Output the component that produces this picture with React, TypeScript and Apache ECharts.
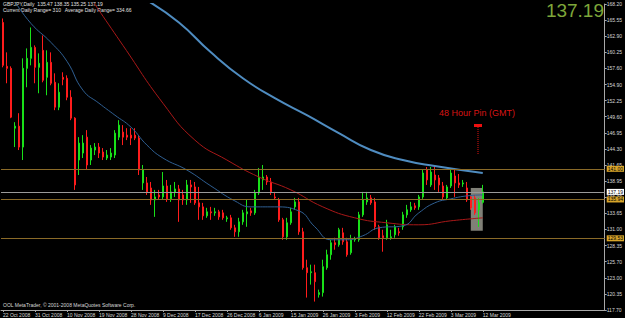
import { useEffect, useRef } from "react";
import * as echarts from "echarts";

const dateLabels = [
  "22 Oct 2008", "31 Oct 2008", "10 Nov 2008", "19 Nov 2008", "28 Nov 2008",
  "9 Dec 2008", "17 Dec 2008", "26 Dec 2008", "6 Jan 2009", "15 Jan 2009",
  "26 Jan 2009", "3 Feb 2009", "12 Feb 2009", "22 Feb 2009", "3 Mar 2009", "12 Mar 2009",
];

const priceTicks = [
  "117.70", "120.35", "123.00", "125.70", "128.35", "131.00", "133.65", "136.30", "138.95", "141.65",
  "144.30", "146.95", "149.60", "152.25", "154.90", "157.60", "160.25", "162.90", "165.55", "168.20",
];

const opens = [
  165.15, 157.91, 157.58, 147.71, 148.04, 144.59, 157.58, 159.23, 161.04, 157.75,
  160.55, 156.10, 158.57, 155.28, 151.17, 156.10, 155.94, 152.81, 149.36, 142.45,
  143.60, 146.23, 142.45, 144.10, 144.59, 143.77, 142.78, 142.94, 143.27, 146.23,
  147.06, 146.56, 146.56, 146.56, 146.07, 138.67, 138.67, 137.84, 135.87, 136.69,
  136.36, 138.17, 136.04, 137.19, 137.68, 136.69, 135.87, 138.34, 138.01, 135.38,
  134.72, 133.24, 133.90, 133.73, 133.90, 133.73, 132.75, 132.91, 131.26, 130.61,
  132.25, 133.57, 134.06, 133.73, 137.02, 139.16, 139.65, 138.83, 136.36, 135.87,
  132.58, 129.78, 132.09, 134.72, 135.54, 130.61, 124.68, 123.86, 123.86, 120.24,
  120.57, 124.68, 126.82, 128.80, 128.47, 130.44, 128.96, 127.15, 129.29, 129.29,
  133.40, 135.54, 136.20, 135.54, 131.43, 129.95, 129.62, 129.62, 130.11, 130.61,
  131.43, 133.40, 134.23, 134.89, 134.72, 136.36, 140.80, 138.34, 139.98, 139.49,
  138.17, 136.20, 138.17, 139.82, 138.67, 138.50, 137.84, 136.36, 136.20, 134.23,
  135.47,
];
const closes = [
  158.08, 157.58, 149.52, 148.04, 144.59, 157.58, 159.23, 161.04, 157.75, 158.41,
  155.61, 158.57, 155.12, 151.17, 153.64, 155.77, 152.81, 149.36, 138.34, 145.25,
  145.25, 141.63, 144.42, 144.59, 143.60, 142.94, 143.27, 143.60, 146.89, 148.21,
  146.23, 146.23, 146.07, 146.07, 140.80, 140.80, 137.19, 135.87, 136.36, 136.36,
  138.17, 136.04, 137.19, 137.68, 135.87, 135.87, 138.34, 138.01, 135.38, 134.72,
  133.24, 133.90, 133.73, 133.90, 133.07, 132.91, 132.91, 131.26, 130.61, 132.25,
  133.73, 133.90, 133.73, 137.02, 139.65, 139.65, 138.83, 137.19, 136.20, 132.58,
  129.78, 132.09, 133.90, 135.54, 130.61, 124.68, 123.86, 124.02, 122.38, 120.57,
  124.85, 126.82, 128.80, 128.47, 130.94, 128.96, 126.82, 129.29, 129.45, 133.40,
  135.87, 136.20, 135.38, 131.43, 129.62, 129.62, 131.76, 129.78, 131.43, 130.44,
  133.40, 134.23, 134.72, 134.56, 136.36, 140.31, 139.16, 140.47, 139.16, 138.34,
  136.36, 138.01, 140.31, 138.67, 138.34, 138.67, 135.87, 134.56, 133.73, 135.38,
  137.19,
];
const lows = [
  157.75, 155.12, 149.36, 144.59, 144.10, 142.45, 154.46, 158.08, 155.12, 153.47,
  155.28, 153.14, 154.79, 150.68, 150.68, 154.79, 152.32, 149.03, 137.52, 139.98,
  142.78, 140.80, 141.63, 143.27, 142.78, 142.45, 142.45, 142.45, 142.78, 145.74,
  144.92, 145.74, 144.92, 145.74, 139.98, 137.52, 136.69, 135.05, 133.07, 135.87,
  135.87, 135.54, 135.54, 136.36, 132.25, 135.05, 135.05, 135.38, 135.05, 132.58,
  132.58, 132.91, 132.58, 133.24, 132.58, 132.58, 132.25, 130.94, 129.78, 129.78,
  131.76, 131.43, 133.24, 133.40, 136.69, 137.52, 138.34, 136.69, 135.87, 132.25,
  129.29, 129.29, 131.76, 134.23, 130.11, 124.35, 119.75, 121.89, 119.09, 119.75,
  119.91, 124.35, 126.00, 127.65, 128.14, 128.47, 126.49, 126.82, 128.96, 128.96,
  133.07, 135.05, 135.05, 130.94, 129.29, 127.32, 129.29, 129.29, 129.62, 129.95,
  130.94, 132.91, 133.90, 134.23, 134.23, 136.04, 138.34, 138.01, 137.52, 137.19,
  135.87, 135.87, 137.84, 136.36, 137.84, 138.01, 135.54, 134.23, 133.40, 131.43,
  135.25,
];
const highs = [
  165.81, 160.22, 157.91, 148.70, 150.18, 159.23, 160.87, 164.33, 161.37, 160.05,
  163.01, 160.55, 160.22, 156.76, 155.12, 156.93, 156.43, 153.97, 149.52, 146.23,
  146.56, 147.39, 144.92, 145.25, 145.25, 144.42, 144.10, 144.42, 147.39, 149.03,
  148.21, 147.71, 147.71, 147.71, 146.56, 141.63, 139.65, 138.83, 137.52, 137.52,
  140.47, 139.16, 138.34, 138.83, 138.34, 137.52, 139.16, 139.16, 138.83, 138.01,
  135.38, 134.56, 134.72, 134.56, 134.23, 134.23, 133.24, 133.40, 131.76, 132.91,
  134.23, 135.87, 134.56, 137.52, 141.14, 141.63, 139.98, 139.49, 137.19, 136.20,
  132.91, 132.91, 134.56, 136.20, 136.20, 131.26, 126.00, 125.18, 125.18, 121.06,
  126.00, 127.65, 129.29, 129.62, 131.26, 131.26, 129.62, 130.11, 129.78, 133.90,
  137.19, 137.19, 136.69, 136.20, 131.76, 130.94, 132.58, 130.94, 131.76, 131.26,
  133.90, 135.05, 135.54, 135.38, 136.69, 140.80, 141.30, 141.30, 141.30, 139.98,
  138.83, 138.34, 141.14, 141.14, 140.14, 139.16, 138.83, 136.69, 136.69, 136.20,
  138.35,
];

// moving averages read at selected bars: [bar index, value]
const maSlow = [
  [36, 168.8], [44, 165.15], [52, 160.22], [60, 155.94], [68, 152.65], [76, 149.85],
  [84, 146.89], [92, 144.1], [100, 142.45], [108, 141.46], [120, 140.31],
];
const maMid = [
  [22, 169.1], [30, 161.37], [40, 151.83], [48, 145.74], [56, 142.45], [64, 139.65],
  [72, 137.52], [80, 134.72], [88, 132.91], [96, 132.09], [104, 131.76], [112, 132.42], [120, 132.91],
];
const maFast = [
  [3, 168.6], [7, 164.99], [12, 161.86], [16, 158.74], [20, 153.97], [24, 151.83], [28, 149.85],
  [32, 147.88], [36, 144.92], [40, 142.78], [46, 140.8], [52, 138.17], [58, 135.7], [62, 134.72],
  [68, 134.72], [74, 134.06], [78, 131.43], [82, 129.29], [86, 129.29], [90, 129.95], [94, 131.26],
  [100, 131.59], [104, 133.73], [108, 135.38], [112, 136.04], [116, 136.53], [120, 136.69],
];

const levelsOrange = [141.0, 135.94, 129.53];
const lastPrice = 137.19;
const pinBox = { fromBar: 117, toBar: 120, top: 137.84, bottom: 130.78 };

const N_SLOTS = 151;
const FONT = "Liberation Sans";
const GREEN = "#19e019";
const RED = "#ff1c1c";
const ORANGE_LINE = "#8a6a28";
const ORANGE_BG = "#d8a52a";

export default function App() {
  const ref = useRef<HTMLDivElement>(null);
  useEffect(() => {
    if (!ref.current) return;
    const chart = echarts.init(ref.current, null, { renderer: "svg" });
    const categories = Array.from({ length: N_SLOTS }, (_, i) =>
      i % 8 === 0 && i / 8 < dateLabels.length ? dateLabels[i / 8] : ""
    );
    const candles = opens.map((o, i) => [o, closes[i], lows[i], highs[i]]);
    const lvlLabel = (bg: string) => ({
      show: true,
      position: "end",
      distance: 2,
      formatter: (p: any) => Number(p.value).toFixed(2),
      fontSize: 5,
      fontFamily: FONT,
      color: "#000",
      backgroundColor: bg,
      padding: [1, 1, 0, 1],
    });
    chart.setOption({
      animation: false,
      backgroundColor: "#000",
      grid: { left: 0, right: 19, top: 4, bottom: 8, show: false },
      xAxis: {
        type: "category",
        data: categories,
        boundaryGap: true,
        axisLine: { show: true, lineStyle: { color: "#a8a8a8", width: 1 } },
        axisTick: { show: true, alignWithLabel: true, length: 2, interval: (_i: number, v: string) => v !== "", lineStyle: { color: "#a8a8a8" } },
        axisLabel: {
          interval: (_i: number, v: string) => v !== "",
          color: "#d8d8d8",
          fontSize: 5,
          fontFamily: FONT,
          align: "left",
          margin: 2,
        },
        splitLine: { show: false },
      },
      yAxis: [
        { type: "value", min: 117.7, max: 168.2, show: false, position: "right" },
        {
          type: "category",
          data: priceTicks,
          boundaryGap: false,
          position: "right",
          axisLine: { show: true, lineStyle: { color: "#a8a8a8" } },
          axisTick: { show: true, length: 2, interval: 0, lineStyle: { color: "#a8a8a8" } },
          axisLabel: { interval: 0, color: "#d8d8d8", fontSize: 5, fontFamily: FONT, margin: 2 },
          splitLine: { show: false },
        },
      ],
      series: [
        {
          type: "candlestick",
          yAxisIndex: 0,
          data: candles,
          barWidth: 2,
          itemStyle: { color: GREEN, color0: RED, borderColor: GREEN, borderColor0: RED, borderWidth: 1 },
          markArea: {
            silent: true,
            itemStyle: { color: "rgba(150,150,140,0.85)" },
            data: [[{ xAxis: pinBox.fromBar, yAxis: pinBox.top }, { xAxis: pinBox.toBar, yAxis: pinBox.bottom }]],
          },
          markLine: {
            silent: true,
            symbol: ["none", "none"],
            data: [
              ...levelsOrange.map((v) => ({ yAxis: v, lineStyle: { color: ORANGE_LINE, width: 1, type: "solid" }, label: lvlLabel(ORANGE_BG) })),
              { yAxis: lastPrice, lineStyle: { color: "#9a9a9a", width: 1, type: "solid" }, label: lvlLabel("#ffffff") },
            ],
          },
        },
        { type: "line", yAxisIndex: 0, data: maSlow, smooth: true, symbol: "none", lineStyle: { color: "#4f8cc0", width: 2 } },
        { type: "line", yAxisIndex: 0, data: maMid, smooth: true, symbol: "none", lineStyle: { color: "#a81818", width: 1 } },
        { type: "line", yAxisIndex: 0, data: maFast, smooth: true, symbol: "none", lineStyle: { color: "#2f5f92", width: 1 } },
      ],
      graphic: [
        { type: "text", left: 3, top: 1, style: { text: "GBPJPY,Daily  135.47 138.35 135.25 137.19", fill: "#e0e0e0", fontSize: 5, fontFamily: FONT } },
        { type: "text", left: 3, top: 7, style: { text: "Current Daily Range= 310   Average Daily Range= 334.66", fill: "#e0e0e0", fontSize: 5, fontFamily: FONT } },
        { type: "text", right: 21, top: 1, style: { text: "137.19", fill: "#7ea63a", fontSize: 19, fontFamily: FONT } },
        { type: "text", left: 439, top: 108, style: { text: "48 Hour Pin (GMT)", fill: "#d81414", fontSize: 9, fontFamily: FONT } },
        { type: "rect", shape: { x: 474, y: 124, width: 8, height: 3 }, style: { fill: "#ee1010" } },
        { type: "line", shape: { x1: 478, y1: 127, x2: 478, y2: 154 }, style: { stroke: "#dd1010", lineWidth: 1, lineDash: [1, 1] } },
        { type: "text", left: 3, top: 302, style: { text: "OOL MetaTrader, © 2001-2008 MetaQuotes Software Corp.", fill: "#d8d8d8", fontSize: 5, fontFamily: FONT } },
      ],
    });
    return () => chart.dispose();
  }, []);
  return <div ref={ref} style={{ width: 625, height: 318, position: "absolute", left: 0, top: 0 }} />;
}
